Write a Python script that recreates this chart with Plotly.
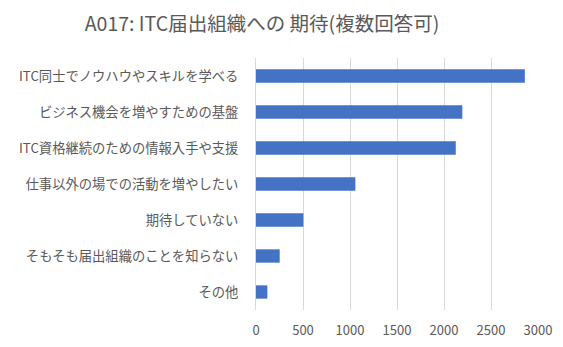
import plotly.graph_objects as go

categories = [
    "ITC同士でノウハウやスキルを学べる",
    "ビジネス機会を増やすための基盤",
    "ITC資格継続のための情報入手や支援",
    "仕事以外の場での活動を増やしたい",
    "期待していない",
    "そもそも届出組織のことを知らない",
    "その他",
]
values = [2860, 2195, 2125, 1057, 504, 252, 121]
tick_vals = [0, 500, 1000, 1500, 2000, 2500, 3000]
title_text = "A017: ITC届出組織への 期待(複数回答可)"

font_family = "Noto Sans CJK JP, Noto Sans, sans-serif"

fig = go.Figure(
    go.Bar(
        x=values,
        y=categories,
        orientation="h",
        marker=dict(color="#4472C4", line=dict(width=0)),
    )
)

fig.update_layout(
    width=563,
    height=347,
    margin=dict(l=256, r=25, t=58, b=37),
    paper_bgcolor="white",
    plot_bgcolor="white",
    bargap=0.63,
    showlegend=False,
    font=dict(family=font_family, size=13, color="#595959"),
    title=dict(
        text=title_text,
        x=262 / 563,
        xanchor="center",
        y=1 - 24 / 347,
        yanchor="middle",
        font=dict(size=19.5, color="#595959", family=font_family),
    ),
)

fig.update_xaxes(
    range=[0, 3000],
    tickvals=tick_vals,
    ticktext=[str(v) for v in tick_vals],
    showgrid=True,
    gridcolor="#D9D9D9",
    gridwidth=1,
    zeroline=False,
    showline=False,
    ticks="",
    automargin=False,
    ticklabelstandoff=11,
    tickfont=dict(size=13, color="#595959"),
)
fig.update_yaxes(
    categoryorder="array",
    categoryarray=categories[::-1],
    showgrid=False,
    zeroline=False,
    showline=True,
    linecolor="#D9D9D9",
    ticks="",
    automargin=False,
    ticklabelstandoff=14,
    tickfont=dict(size=13.3, color="#595959"),
)

fig.write_html("out.html")
